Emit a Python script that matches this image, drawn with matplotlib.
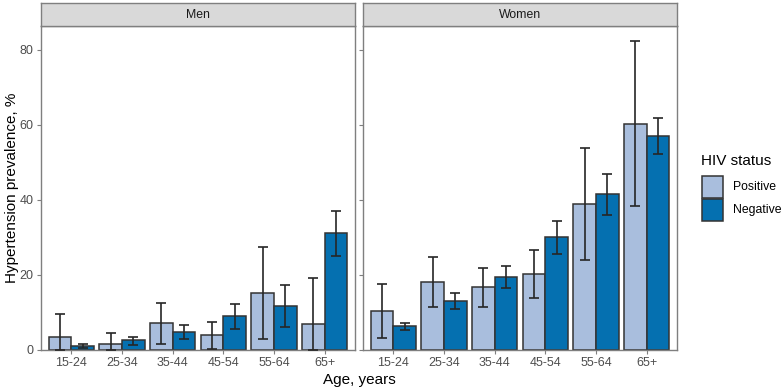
import matplotlib.pyplot as plt
from matplotlib.patches import Rectangle
import numpy as np

plt.rcParams['font.family'] = ['Liberation Sans', 'DejaVu Sans']

ages = ['15-24', '25-34', '35-44', '45-54', '55-64', '65+']
panels = ['Men', 'Women']
statuses = ['Positive', 'Negative']

# prevalence, lower CI, upper CI (%)
men_pos = [3.3, 1.6, 7.1, 3.8, 15.1, 6.7]
men_pos_lo = [0.0, 0.0, 1.6, 0.2, 2.7, 0.0]
men_pos_hi = [9.4, 4.4, 12.5, 7.3, 27.4, 19.2]
men_neg = [1.0, 2.5, 4.7, 8.9, 11.6, 31.2]
men_neg_lo = [0.5, 1.2, 2.8, 5.5, 6.0, 25.1]
men_neg_hi = [1.6, 3.4, 6.5, 12.1, 17.1, 36.9]
women_pos = [10.3, 18.1, 16.7, 20.2, 38.9, 60.1]
women_pos_lo = [3.1, 11.4, 11.3, 13.7, 24.0, 38.4]
women_pos_hi = [17.4, 24.6, 21.7, 26.5, 53.8, 82.3]
women_neg = [6.4, 12.9, 19.3, 30.0, 41.4, 57.0]
women_neg_lo = [5.3, 10.8, 16.3, 25.6, 35.8, 52.1]
women_neg_hi = [7.2, 15.0, 22.2, 34.3, 46.9, 61.8]

data = {
    'Men': [(men_pos, men_pos_lo, men_pos_hi), (men_neg, men_neg_lo, men_neg_hi)],
    'Women': [(women_pos, women_pos_lo, women_pos_hi), (women_neg, women_neg_lo, women_neg_hi)],
}

colors = ['#A9BEDD', '#0570B0']
edge = '#333333'
grey_txt = '#4D4D4D'
border = '#7F7F7F'

W, H = 784, 389
fig = plt.figure(figsize=(W / 100, H / 100), dpi=100)


def px_axes(x0, y0, x1, y1):
    # pixel box (top-left origin) -> figure axes
    return fig.add_axes([x0 / W, 1 - y1 / H, (x1 - x0) / W, (y1 - y0) / H])


panel_x = [(41, 355), (363, 677)]
x = np.arange(1, len(ages) + 1)
bw = 0.45

for i, name in enumerate(panels):
    x0, x1 = panel_x[i]
    ax = px_axes(x0, 26, x1, 349.5)
    for j, (vals, lo, hi) in enumerate(data[name]):
        pos = x + (j - 0.5) * bw
        vals = np.array(vals)
        ax.bar(pos, vals, width=bw, color=colors[j], edgecolor=edge, linewidth=1.1, zorder=2)
        yerr = np.vstack([vals - np.array(lo), np.array(hi) - vals])
        ax.errorbar(pos, vals, yerr=yerr, fmt='none', ecolor='#262626', elinewidth=1.2,
                    capsize=3.6, capthick=1.2, zorder=3)
    ax.set_xlim(0.4, 6.6)
    ax.set_ylim(0, 86.4)
    ax.set_xticks(x)
    ax.set_xticklabels(ages)
    ax.set_yticks([0, 20, 40, 60, 80])
    if i > 0:
        ax.set_yticklabels([])
        ax.tick_params(axis='y', length=0)
    ax.tick_params(colors=border, labelcolor=grey_txt, labelsize=9, length=3, width=0.8, pad=2.5)
    for s in ax.spines.values():
        s.set_color(border)
        s.set_linewidth(1.0)

    strip = px_axes(x0, 3, x1, 26)
    strip.set_facecolor('#D9D9D9')
    strip.set_xticks([])
    strip.set_yticks([])
    for s in strip.spines.values():
        s.set_color(border)
        s.set_linewidth(1.0)
    strip.text(0.5, 0.5, name, ha='center', va='center', fontsize=8.8, color='#1A1A1A',
               transform=strip.transAxes)

fig.text(359 / W, 1 - 380 / H, 'Age, years', ha='center', va='center', fontsize=11)
fig.text(12 / W, 1 - 188 / H, 'Hypertension prevalence, %', ha='center', va='center',
         rotation=90, fontsize=11)

# legend
fig.text(701 / W, 1 - 161 / H, 'HIV status', ha='left', va='center', fontsize=11)
key_top = [176, 199]
for j, lab in enumerate(statuses):
    fig.patches.append(Rectangle((702 / W, 1 - (key_top[j] + 22) / H), 21 / W, 22 / H,
                                 transform=fig.transFigure, facecolor=colors[j],
                                 edgecolor=edge, linewidth=1.1))
    fig.text(733 / W, 1 - (key_top[j] + 11) / H, lab, ha='left', va='center', fontsize=8.8)

fig.savefig('out.png', dpi=100)
